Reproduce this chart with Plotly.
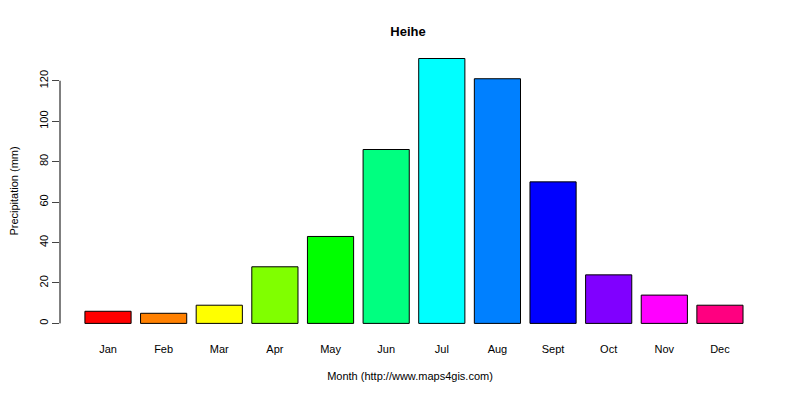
import plotly.graph_objects as go

months = ["Jan","Feb","Mar","Apr","May","Jun","Jul","Aug","Sept","Oct","Nov","Dec"]
precip = [6, 5, 9, 28, 43, 86, 131, 121, 70, 24, 14, 9]
colors = ["#FF0000","#FF8000","#FFFF00","#80FF00","#00FF00","#00FF80",
          "#00FFFF","#0080FF","#0000FF","#8000FF","#FF00FF","#FF0080"]
yticks = [0, 20, 40, 60, 80, 100, 120]

fig = go.Figure(go.Bar(x=list(range(12)), y=precip, marker_color=colors,
                       marker_line_color="black", marker_line_width=1, width=0.83))
font = dict(family="Liberation Sans, Arial", size=11, color="black")
fig.update_layout(
    width=800, height=400, plot_bgcolor="white", paper_bgcolor="white",
    margin=dict(l=52, r=48, t=40, b=74), font=font, showlegend=False,
    title=dict(text="<b>Heihe</b>", x=0.5, xanchor="center", y=0.9425, yanchor="middle",
               font=dict(size=13, family="Liberation Sans, Arial")),
    xaxis=dict(range=[-0.863, 11.72], tickvals=list(range(12)), ticktext=months,
               showgrid=False, zeroline=False, showline=False, ticks="", automargin=False,
               ticklabelstandoff=7,
               title=dict(text="Month (http://www.maps4gis.com)", standoff=18, font=dict(size=11))),
    yaxis=dict(range=[-5.24, 136.2], tickvals=yticks, tickangle=-90, ticks="outside",
               ticklen=7, showgrid=False, zeroline=False, showline=False, automargin=False,
               title=dict(text="Precipitation (mm)", standoff=16, font=dict(size=11))),
    shapes=[dict(type="line", xref="paper", yref="y", x0=0, x1=0, y0=0, y1=120,
                 line=dict(color="black", width=1))],
)
fig.write_html("out.html")
